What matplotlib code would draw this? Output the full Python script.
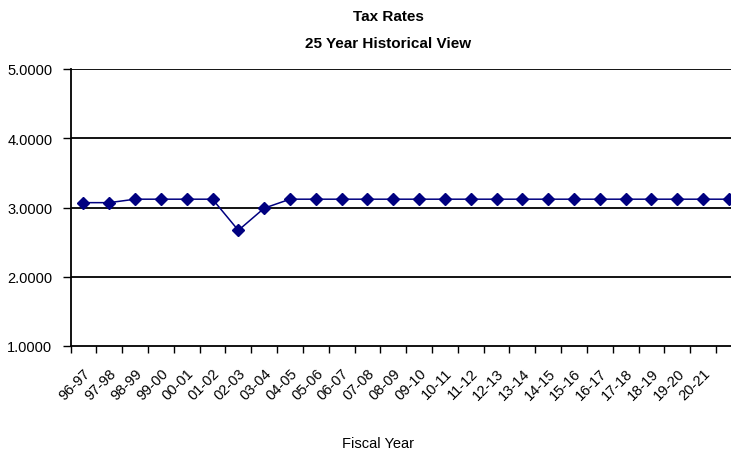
import numpy as np
import matplotlib as mpl
mpl.use("Agg")
from matplotlib import pyplot as plt
from matplotlib.ticker import FixedLocator, FormatStrFormatter

mpl.rcParams.update({
    "font.family": ["Liberation Sans", "DejaVu Sans"],
})

years = ["96-97", "97-98", "98-99", "99-00", "00-01", "01-02", "02-03", "03-04",
         "04-05", "05-06", "06-07", "07-08", "08-09", "09-10", "10-11", "11-12",
         "12-13", "13-14", "14-15", "15-16", "16-17", "17-18", "18-19", "19-20",
         "20-21", ""]
rates = [3.07, 3.07, 3.12, 3.12, 3.12, 3.12, 2.67, 2.99,
         3.12, 3.12, 3.12, 3.12, 3.12, 3.12, 3.12, 3.12,
         3.12, 3.12, 3.12, 3.12, 3.12, 3.12, 3.12, 3.12,
         3.12, 3.12]
yticks = [1.0, 2.0, 3.0, 4.0, 5.0]


def saveplot(fig, filename):
    fig.savefig(filename, dpi=100)


def plot_rates():
    fig = plt.figure(figsize=(7.31, 4.52))
    ax = fig.add_axes([70.5 / 731, 1 - 347 / 452, 1 - 70.5 / 731, (347 - 70) / 452])
    x = np.arange(len(rates))

    for y in yticks[1:]:
        ax.axhline(y, color="black", lw=1.3, zorder=1)
    ax.plot(x, rates, color="#000080", lw=1.1, marker="D", markersize=6,
            zorder=3, clip_on=True)

    ax.set_xlim(-0.5, 25.08)
    ax.set_ylim(1.0, 5.0)

    ax.set_yticks(yticks)
    ax.yaxis.set_major_formatter(FormatStrFormatter("%.4f"))
    ax.tick_params(axis="y", direction="out", length=6, width=1, labelsize=10.5, pad=7)

    # categories in the middle, ticks on the boundaries
    ax.set_xticks(x)
    ax.set_xticklabels(years, rotation=45, ha="right", va="top",
                       rotation_mode="anchor", fontsize=10.5)
    ax.tick_params(axis="x", which="major", length=0, pad=14)
    ax.xaxis.set_minor_locator(FixedLocator(np.arange(-0.5, 26, 1.0)))
    ax.tick_params(axis="x", which="minor", direction="out", length=5, width=1)

    for side in ["top", "right"]:
        ax.spines[side].set_visible(False)
    ax.spines["left"].set_linewidth(1.3)
    ax.spines["bottom"].set_linewidth(1.3)

    fig.text(378 / 731, 1 - 444 / 452, "Fiscal Year", ha="center", va="center",
             fontsize=10.5)
    fig.text(388 / 731, 1 - 17 / 452, "Tax Rates", ha="center", va="center",
             fontsize=11, fontweight="bold")
    fig.text(388 / 731, 1 - 44 / 452, "25 Year Historical View", ha="center",
             va="center", fontsize=11, fontweight="bold")

    saveplot(fig, "out.png")
    plt.close()


if __name__ == '__main__':
    plot_rates()
